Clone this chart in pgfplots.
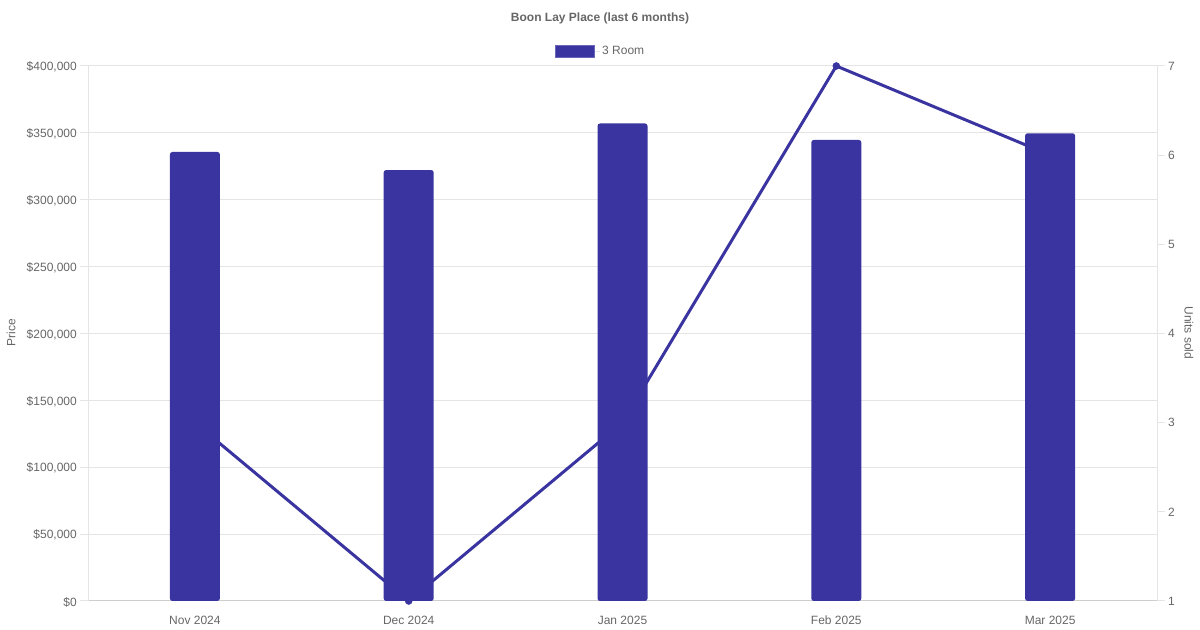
\documentclass[border=0pt]{standalone}
\usepackage{pgfplots}
\pgfplotsset{compat=1.18}
\usepackage{fontspec}
\setmainfont{Liberation Sans}
\definecolor{barc}{RGB}{57,52,160}
\definecolor{txt}{RGB}{102,102,102}
\definecolor{gridc}{RGB}{229,229,229}
\definecolor{axc}{RGB}{205,205,205}
\pgfplotsset{
  base/.style={
    at={(88bp,29bp)}, anchor=south west, scale only axis,
    width=1069bp, height=535bp, xmin=-0.5, xmax=4.5,
    ticklabel style={font=\fontsize{12bp}{14bp}\selectfont, text=txt},
    tick style={draw=gridc, line width=1bp},
    major tick length=8bp, tick align=outside,
    /pgf/number format/assume math mode=true,
  }
}
\begin{document}
\begin{tikzpicture}[x=1bp,y=1bp]
\path[use as bounding box] (0,0) rectangle (1200,630);
% grid + left axis
\begin{axis}[base,
  ymin=0, ymax=400000,
  ytick={0,50000,...,400000},
  yticklabels={{\$0},{\$50,000},{\$100,000},{\$150,000},{\$200,000},{\$250,000},{\$300,000},{\$350,000},{\$400,000}},
  scaled y ticks=false,
  ymajorgrids, grid style={draw=gridc, line width=1bp},
  axis x line*=bottom, axis y line*=left,
  axis line style={-, draw=gridc, line width=1bp},
  x axis line style={draw=axc},
  xtick={0,1,2,3,4},
  xticklabels={Nov 2024,Dec 2024,Jan 2025,Feb 2025,Mar 2025},
  xtick style={draw=none},
  yticklabel style={inner sep=0pt, xshift=-3bp, yshift=-1bp},
  xticklabel style={inner sep=0pt, yshift=-7bp},
]
\end{axis}
% right axis: units sold (line, drawn beneath bars)
\begin{axis}[base,
  ymin=1, ymax=7, ytick={1,2,3,4,5,6,7},
  axis y line*=right, axis x line=none,
  axis line style={-, draw=gridc, line width=1bp},
  yticklabel style={inner sep=0pt, xshift=3bp},
  xtick=\empty, clip=false,
]
\addplot[barc, line width=3bp, mark=*, mark size=3.5bp, mark options={solid, fill=barc, draw=barc, line width=0.5bp}]
  coordinates {(0,3) (1,1) (2,3) (3,7) (4,6)};
\end{axis}
% bars: price
\begin{axis}[base,
  ymin=0, ymax=400000, hide axis,
  legend style={at={(0.4794,1.027)}, anchor=center, draw=none, fill=none,
    font=\fontsize{12bp}{14bp}\selectfont, text=txt, inner sep=0pt},
  legend image code/.code={\path (0bp,0bp) -- (45bp,0bp); \draw[sharp corners, fill=barc, draw=barc!75!white, line width=1bp] (0bp,-6bp) rectangle (39bp,6bp);},
]
\addplot[ybar, fill=barc, draw=none, bar width=50bp, rounded corners=2.5bp]
  coordinates {(0,335700) (1,322200) (2,357000) (3,344700) (4,349700)};
\addlegendentry{3 Room}
\end{axis}
\node[font=\bfseries\fontsize{12bp}{14bp}\selectfont, text=txt] at (600,612) {Boon Lay Place (last 6 months)};
\node[rotate=90, font=\fontsize{12bp}{14bp}\selectfont, text=txt] at (11,297) {Price};
\node[rotate=-90, font=\fontsize{12bp}{14bp}\selectfont, text=txt] at (1189,297) {Units sold};
\end{tikzpicture}
\end{document}
